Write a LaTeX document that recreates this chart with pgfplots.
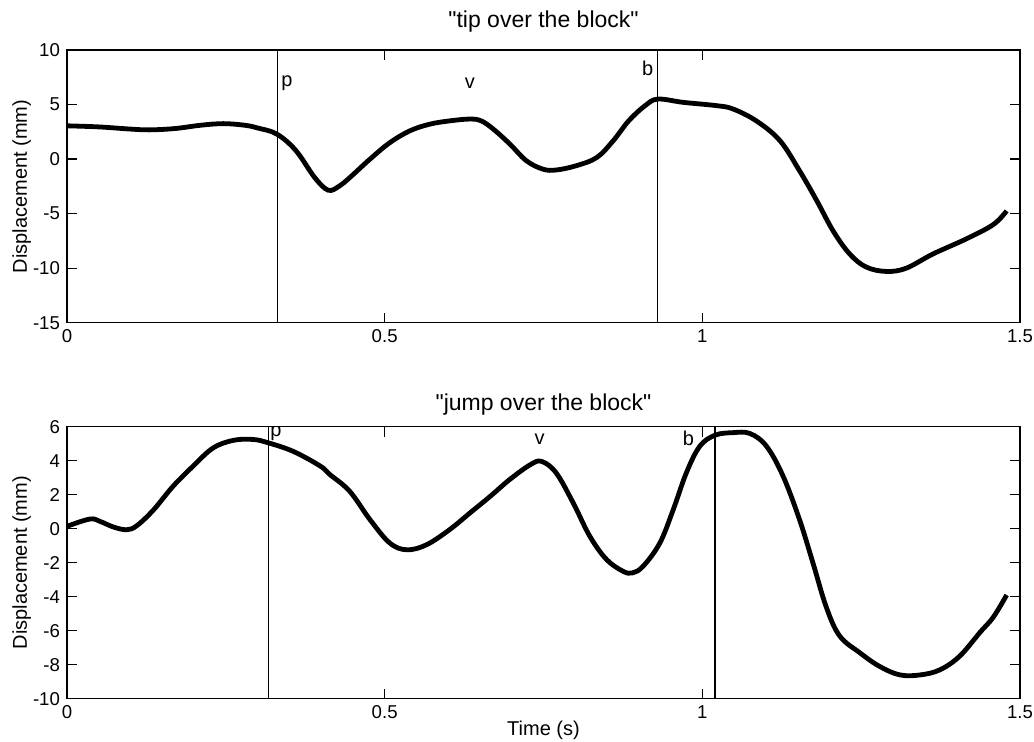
\documentclass[border=0pt]{standalone}
\usepackage{fontspec}
\setmainfont{Liberation Sans}[Ligatures=TeXOff]
\usepackage{pgfplots}
\pgfplotsset{compat=1.18}

\pgfplotsset{
  disp/.style={
    scale only axis, width=476.5pt,
    xmin=0, xmax=1.5,
    xtick={0,0.5,1,1.5}, xticklabels={0,0.5,1,1.5},
    tick align=inside, major tick length=5pt,
    axis line style={line width=0.7pt},
    every tick/.style={line width=0.6pt,black},
    tick label style={font=\fontsize{9.3}{11}\selectfont},
    label style={font=\fontsize{10}{12}\selectfont},
    every axis title shift=0pt,
    title style={font=\fontsize{11.5}{13}\selectfont,yshift=0pt,anchor=center},
    ylabel={Displacement (mm)},
    ylabel style={at={(axis description cs:-0.0475,0.5)},anchor=center},
  },
  curve/.style={black,line width=2.4pt,smooth,tension=0.6},
  marker/.style={black,line width=0.6pt},
}

\begin{document}
\begin{tikzpicture}
\path[use as bounding box] (-33.5pt,-209.15pt) rectangle (483.5pt,161.35pt);

% tip over the block
\begin{axis}[disp, at={(0,0)}, height=136.35pt,
  ymin=-15, ymax=10, ytick={-15,-10,-5,0,5,10},
  yticklabels={-15,-10,-5,0,5,10},
  title={"tip over the block"},
  title style={at={(axis description cs:0.5,1.103)}}]
\addplot[curve] coordinates {
 (0,3.05) (0.05,2.95) (0.10,2.75) (0.13,2.68) (0.17,2.8) (0.21,3.1)
 (0.246,3.25) (0.28,3.1) (0.30,2.85) (0.33,2.3) (0.36,0.8) (0.39,-1.7)
 (0.411,-2.85) (0.428,-2.5) (0.445,-1.7) (0.477,0.0) (0.508,1.5) (0.54,2.6)
 (0.571,3.2) (0.602,3.5) (0.634,3.67) (0.652,3.5) (0.671,2.75) (0.697,1.38)
 (0.723,-0.15) (0.749,-0.92) (0.77,-1.0) (0.802,-0.6) (0.834,0.15) (0.86,1.7)
 (0.884,3.5) (0.91,4.9) (0.930,5.5) (0.97,5.2) (1.022,4.9) (1.048,4.6)
 (1.085,3.5) (1.122,1.7) (1.153,-1.07) (1.18,-3.8) (1.206,-6.6) (1.232,-8.7)
 (1.258,-9.9) (1.29,-10.3) (1.321,-10.0) (1.363,-8.7) (1.416,-7.3)
 (1.458,-6.0) (1.479,-4.75)
};
\addplot[marker] coordinates {(0.3315,-15) (0.3315,10)};
\addplot[marker] coordinates {(0.930,-15) (0.930,10)};
\node[font=\fontsize{10}{12}\selectfont] at (axis cs:0.346,7.0) {p};
\node[font=\fontsize{10}{12}\selectfont] at (axis cs:0.634,7.0) {v};
\node[font=\fontsize{10}{12}\selectfont] at (axis cs:0.914,8.3) {b};
\end{axis}

% jump over the block
\begin{axis}[disp, at={(0,-188pt)}, height=136pt,
  ymin=-10, ymax=6, ytick={-10,-8,-6,-4,-2,0,2,4,6},
  yticklabels={-10,-8,-6,-4,-2,0,2,4,6},
  title={"jump over the block"},
  title style={at={(axis description cs:0.5,1.083)}},
  xlabel={Time (s)},
  xlabel style={at={(axis description cs:0.5,-0.118)},anchor=center}]
\addplot[curve] coordinates {
 (0,0.14) (0.036,0.57) (0.052,0.43) (0.073,0.1) (0.094,-0.06) (0.11,0.18)
 (0.136,1.1) (0.167,2.5) (0.199,3.7) (0.23,4.75) (0.262,5.2) (0.293,5.25)
 (0.317,5.05) (0.356,4.55) (0.398,3.7) (0.414,3.18) (0.445,2.2) (0.477,0.53)
 (0.508,-0.84) (0.535,-1.24) (0.566,-0.94) (0.602,-0.06) (0.634,0.92)
 (0.666,1.9) (0.697,2.9) (0.729,3.76) (0.747,3.96) (0.77,3.28) (0.797,1.5)
 (0.823,-0.45) (0.849,-1.8) (0.875,-2.5) (0.89,-2.6) (0.907,-2.2)
 (0.933,-0.85) (0.954,1.1) (0.975,3.3) (0.996,4.85) (1.02,5.5) (1.048,5.65)
 (1.075,5.6) (1.101,4.85) (1.127,3.1) (1.153,0.53) (1.174,-2.0) (1.195,-4.6)
 (1.216,-6.3) (1.248,-7.3) (1.279,-8.1) (1.311,-8.6) (1.343,-8.6)
 (1.374,-8.3) (1.405,-7.5) (1.437,-6.1) (1.458,-5.2) (1.479,-3.9)
};
\addplot[marker] coordinates {(0.317,-10) (0.317,6)};
\addplot[marker] coordinates {(1.020,-10) (1.020,6)};
\node[font=\fontsize{10}{12}\selectfont] at (axis cs:0.329,5.63) {p};
\node[font=\fontsize{10}{12}\selectfont] at (axis cs:0.744,5.24) {v};
\node[font=\fontsize{10}{12}\selectfont] at (axis cs:0.978,5.34) {b};
\end{axis}
\end{tikzpicture}
\end{document}
